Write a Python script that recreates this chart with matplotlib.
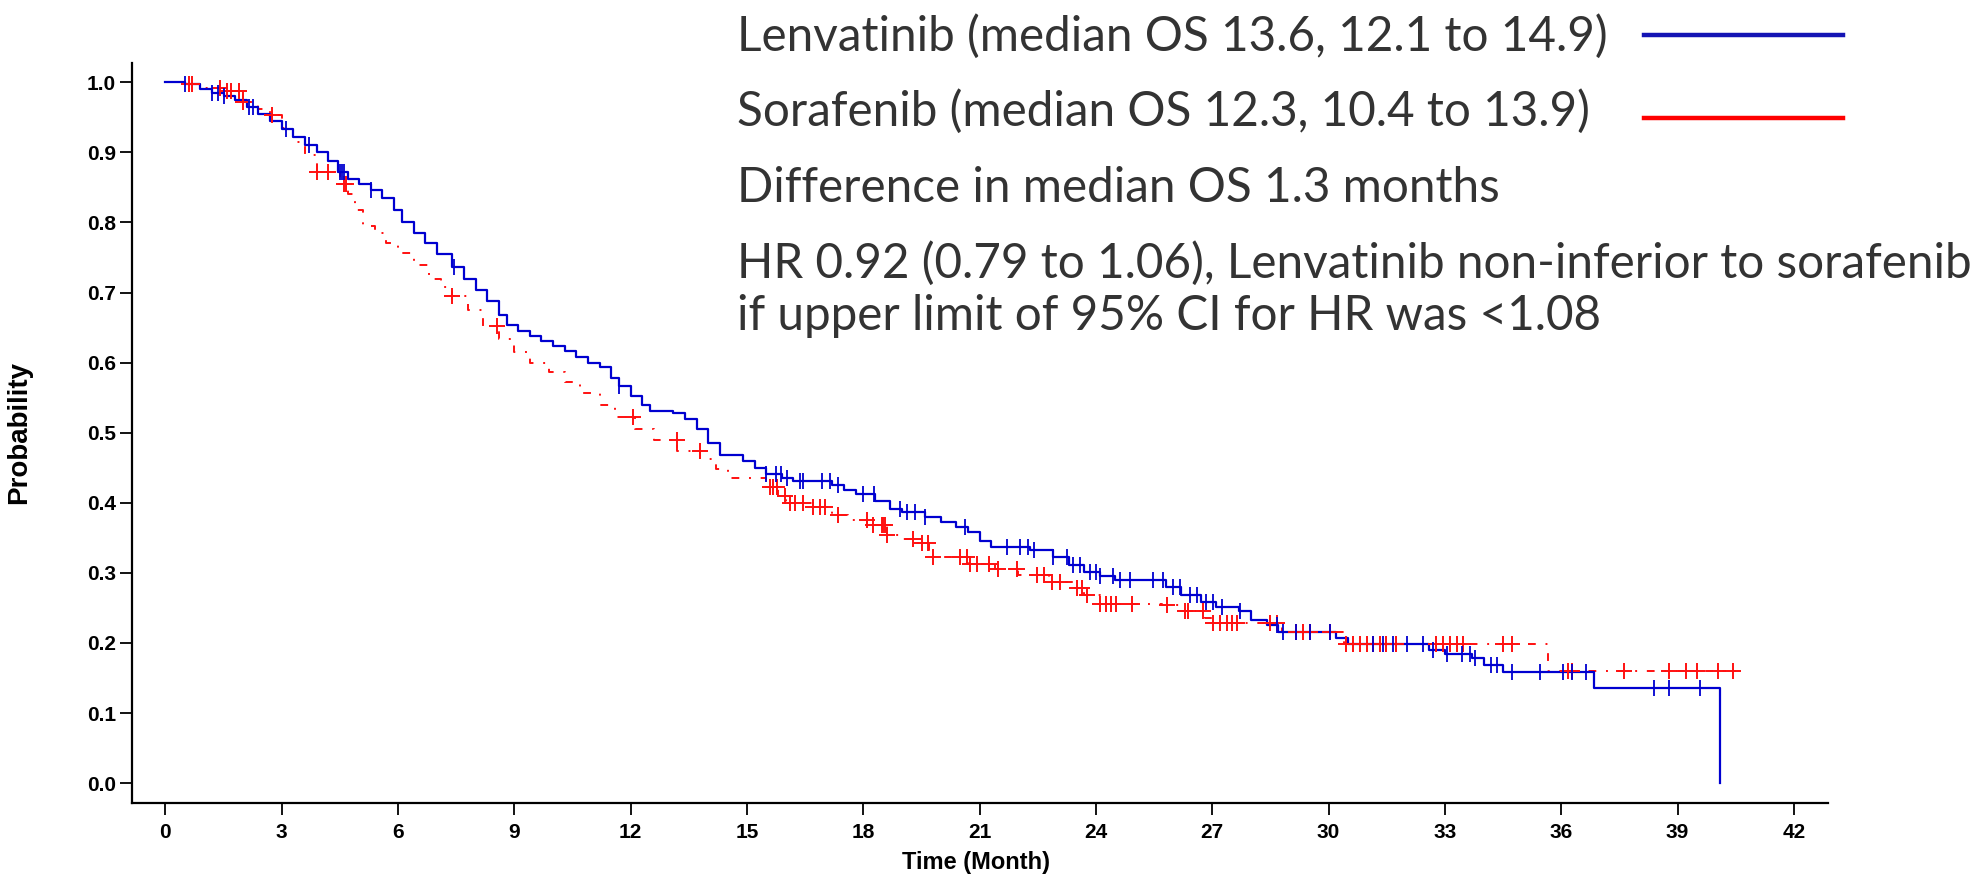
import numpy as np
import matplotlib
matplotlib.use("Agg")
import matplotlib.pyplot as plt

# Kaplan-Meier step points (time in months, survival probability)
lenva_time = [0.0, 0.5, 0.9, 1.2, 1.5, 1.8, 2.1, 2.4, 2.7, 3.0, 3.3, 3.6, 3.9, 4.2, 4.45,
              4.7, 5.0, 5.3, 5.6, 5.9, 6.1, 6.4, 6.7, 7.0, 7.4, 7.7, 8.0, 8.3, 8.6, 8.8,
              9.1, 9.4, 9.7, 10.0, 10.3, 10.6, 10.9, 11.2, 11.5, 11.7, 12.0, 12.3, 12.5,
              13.1, 13.4, 13.7, 14.0, 14.3, 14.9, 15.2, 15.5, 15.9, 16.2, 17.2, 17.5, 17.8,
              18.3, 18.7, 19.0, 19.6, 20.0, 20.4, 20.7, 21.0, 21.3, 22.3, 22.9, 23.3, 23.7,
              24.1, 24.5, 25.8, 26.2, 26.7, 27.1, 27.7, 28.0, 28.4, 28.7, 30.2, 30.5, 32.6,
              33.0, 33.7, 34.0, 34.5, 36.85, 40.1]
lenva_surv = [1.000, 0.997, 0.990, 0.985, 0.980, 0.975, 0.965, 0.955, 0.945, 0.933, 0.922,
              0.911, 0.900, 0.888, 0.872, 0.862, 0.855, 0.846, 0.835, 0.818, 0.800, 0.785,
              0.770, 0.755, 0.736, 0.720, 0.703, 0.688, 0.668, 0.654, 0.645, 0.638, 0.631,
              0.624, 0.617, 0.608, 0.600, 0.594, 0.578, 0.566, 0.553, 0.540, 0.531, 0.528,
              0.519, 0.505, 0.486, 0.468, 0.460, 0.450, 0.441, 0.436, 0.431, 0.425, 0.418,
              0.412, 0.403, 0.391, 0.387, 0.380, 0.373, 0.366, 0.358, 0.346, 0.337, 0.332,
              0.323, 0.311, 0.301, 0.296, 0.290, 0.280, 0.268, 0.259, 0.252, 0.245, 0.233,
              0.226, 0.215, 0.207, 0.199, 0.190, 0.184, 0.178, 0.168, 0.158, 0.136, 0.0]
lenva_cens = [0.5, 1.2, 1.35, 1.5, 2.15, 2.25, 3.1, 3.7, 4.5, 4.55, 4.6, 5.3, 7.45, 11.7,
              15.5, 15.76, 15.89, 16.02, 16.36, 16.45, 16.93, 17.14, 17.36, 18.0, 18.27,
              18.95, 19.13, 19.34, 19.6, 20.63, 21.7, 22.04, 22.26, 22.39, 22.9, 23.25,
              23.42, 23.6, 23.85, 24.0, 24.1, 24.44, 24.62, 24.87, 25.48, 25.73, 25.99,
              26.16, 26.42, 26.6, 26.85, 27.02, 27.24, 27.71, 28.66, 28.83, 29.17, 29.52,
              30.03, 31.15, 31.41, 31.67, 32.01, 32.44, 32.7, 33.05, 33.44, 33.65, 33.78,
              34.18, 34.35, 34.74, 35.44, 36.05, 36.27, 36.63, 38.4, 38.79, 39.57]

sora_time = [0.0, 0.6, 1.0, 1.5, 2.0, 2.4, 2.7, 3.0, 3.3, 3.6, 3.9, 4.5, 4.7, 4.9, 5.1,
             5.4, 5.7, 6.0, 6.4, 6.8, 7.1, 7.4, 7.8, 8.2, 8.6, 9.0, 9.4, 9.9, 10.3, 10.7,
             11.2, 11.6, 12.1, 12.6, 13.2, 13.8, 14.2, 14.5, 15.5, 15.8, 16.0, 16.7, 17.2,
             17.6, 18.1, 18.6, 19.0, 19.3, 19.7, 20.7, 21.4, 22.0, 22.8, 23.4, 23.7, 24.1,
             25.7, 26.2, 26.8, 27.0, 28.8, 30.4, 35.65, 40.5]
sora_surv = [1.000, 0.997, 0.992, 0.988, 0.972, 0.962, 0.953, 0.935, 0.915, 0.896, 0.872,
             0.855, 0.840, 0.818, 0.795, 0.785, 0.770, 0.756, 0.740, 0.720, 0.708, 0.695,
             0.675, 0.652, 0.633, 0.615, 0.600, 0.586, 0.572, 0.556, 0.540, 0.522, 0.505,
             0.490, 0.474, 0.462, 0.448, 0.436, 0.422, 0.410, 0.400, 0.394, 0.382, 0.375,
             0.368, 0.354, 0.348, 0.342, 0.323, 0.313, 0.305, 0.297, 0.287, 0.279, 0.268,
             0.256, 0.254, 0.245, 0.235, 0.228, 0.216, 0.199, 0.160, 0.160]
sora_cens = [0.6, 0.7, 1.4, 1.6, 1.7, 1.9, 2.0, 2.75, 3.9, 4.2, 4.6, 4.65, 7.4, 8.55,
             12.07, 13.19, 13.79, 15.59, 15.68, 15.77, 15.98, 16.11, 16.24, 16.45, 16.71,
             16.88, 17.01, 17.36, 18.09, 18.26, 18.48, 18.52, 18.56, 18.6, 19.29, 19.51,
             19.68, 19.81, 20.5, 20.67, 20.75, 20.93, 21.23, 21.48, 21.96, 22.47, 22.65,
             22.86, 23.08, 23.5, 23.63, 23.76, 24.1, 24.27, 24.4, 24.53, 24.92, 25.82,
             26.29, 26.38, 26.77, 27.02, 27.2, 27.37, 27.5, 27.63, 28.48, 28.66, 29.17,
             29.34, 29.52, 30.03, 30.46, 30.63, 30.81, 30.98, 31.15, 31.32, 31.49, 31.75,
             32.78, 32.96, 33.13, 33.3, 33.47, 34.5, 34.72, 36.18, 36.27, 37.61, 38.79,
             39.22, 39.49, 40.05, 40.44]

x_ticks = list(range(0, 43, 3))
y_ticks = [0.0, 0.1, 0.2, 0.3, 0.4, 0.5, 0.6, 0.7, 0.8, 0.9, 1.0]

legend_lines = [
    "Lenvatinib (median OS 13.6, 12.1 to 14.9)",
    "Sorafenib (median OS 12.3, 10.4 to 13.9)",
    "Difference in median OS 1.3 months",
    "HR 0.92 (0.79 to 1.06), Lenvatinib non-inferior to sorafenib",
    "if upper limit of 95% CI for HR was <1.08",
]

BLUE = "#0000d0"
RED = "#ff1010"
W, H = 1987, 893

fig = plt.figure(figsize=(W / 100, H / 100), dpi=100)
ax = fig.add_axes([132 / W, 1 - 802.5 / H, (1828 - 132) / W, (802.5 - 63) / H])


def surv_at(times, surv, c):
    idx = np.searchsorted(times, c, side="right") - 1
    return np.asarray(surv)[idx]


ax.plot(lenva_time, lenva_surv, drawstyle="steps-post", color=BLUE, lw=1.6, zorder=3)
ax.plot(sora_time, sora_surv, drawstyle="steps-post", color=RED, lw=1.4,
        linestyle=(0, (4, 5, 1, 5)), zorder=2)
ax.plot(lenva_cens, surv_at(lenva_time, lenva_surv, lenva_cens), ls="none",
        marker="|", ms=11, mew=1.3, color=BLUE, zorder=4)
ax.plot(sora_cens, surv_at(sora_time, sora_surv, sora_cens), ls="none",
        marker="+", ms=11.5, mew=1.4, color=RED, zorder=3)

ax.set_xlim(-0.86, 42.88)
ax.set_ylim(-0.0276, 1.0275)
ax.set_xticks(x_ticks)
ax.set_yticks(y_ticks)
ax.set_yticklabels([f"{v:.1f}" for v in y_ticks])
for s in ["top", "right"]:
    ax.spines[s].set_visible(False)
for s in ["left", "bottom"]:
    ax.spines[s].set_linewidth(1.6)
ax.tick_params(axis="both", direction="out", length=8.5, width=1.3, labelsize=15)
ax.tick_params(axis="x", pad=6)
ax.tick_params(axis="y", pad=3)
for lab in ax.get_xticklabels() + ax.get_yticklabels():
    lab.set_fontfamily(["Liberation Sans", "DejaVu Sans"])
    lab.set_fontweight("bold")

ax.set_xlabel("Time (Month)", fontsize=17, fontweight="bold",
              family=["Liberation Sans", "DejaVu Sans"])
ax.xaxis.set_label_coords(0.4976, -0.066)
ax.set_ylabel("Probability", fontsize=20, fontweight="bold",
              family=["Liberation Sans", "DejaVu Sans"])
ax.yaxis.set_label_coords(-0.059, 0.5)

# annotation block in the top right
baselines = [50.7, 126, 201.7, 277.7, 330]
for txt, yb in zip(legend_lines, baselines):
    fig.text(737 / W, 1 - yb / H, txt, fontsize=34.3, family=["Lato", "DejaVu Sans"],
             color="#333333", va="baseline", ha="left")
fig.add_artist(plt.Line2D([1644 / W, 1843 / W], [1 - 35 / H, 1 - 35 / H],
                          color="#1414b4", lw=3.2))
fig.add_artist(plt.Line2D([1644 / W, 1843 / W], [1 - 118 / H, 1 - 118 / H],
                          color="#ff0000", lw=3.2))

fig.savefig("out.png", dpi=100)
